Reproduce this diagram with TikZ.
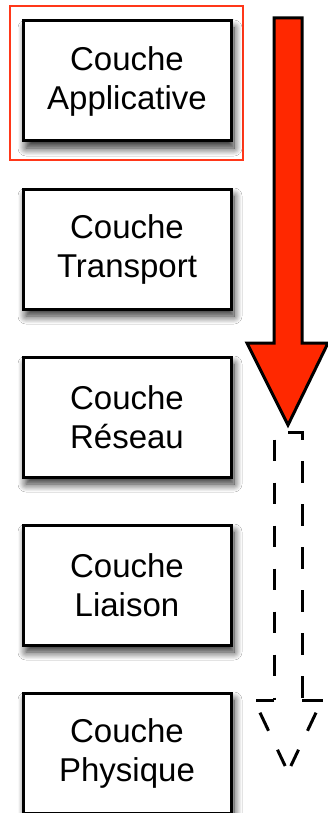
\documentclass[tikz,border=0pt]{standalone}
\usepackage{fontspec}
\setmainfont{Liberation Sans}
\usetikzlibrary{shadows.blur}
\definecolor{arrowred}{RGB}{255,40,0}
\definecolor{selred}{RGB}{255,55,25}
\begin{document}
\begin{tikzpicture}[x=1pt,y=-1pt,
  layer/.style={draw=black, line width=3pt, fill=white, minimum width=208pt, minimum height=120pt,
    inner sep=0pt, align=center, font=\fontsize{33}{39}\selectfont,
    blur shadow={shadow xshift=3pt, shadow yshift=-7pt, shadow blur steps=14, shadow blur radius=8pt, shadow opacity=85}},
  selbox/.style={draw=selred, line width=2pt},
  bigarrow/.style={draw=black, line width=3pt, fill=arrowred, line join=miter},
  ghost/.style={draw=black, line width=3pt, line join=miter},
  ghostdash/.style={ghost, dash pattern=on 21.5pt off 21.5pt},
  ghostdiag/.style={ghost, dash pattern=on 0pt off 14pt on 20pt off 21pt on 18pt off 40pt}]
\useasboundingbox (0,0) rectangle (327,813);
\fill[white] (0,0) rectangle (327,813);
\draw[selbox] (10,6) rectangle (243,160);
\node[layer] (app) at (127,81) {Couche\\Applicative};
\node[layer] (tra) at (127,249) {Couche\\Transport};
\node[layer] (res) at (127,417) {Couche\\Réseau};
\node[layer] (lia) at (127,585) {Couche\\Liaison};
\node[layer] (phy) at (127,753) {Couche\\Physique};
\draw[bigarrow] (274,18) -- (302,18) -- (302,343) -- (328,343) -- (288,425) -- (247,343) -- (274,343) -- cycle;
% ghost arrow (dashed outline)
\coordinate (gt) at (288,432);
\coordinate (gtip) at (288,772);
\draw[ghostdash] (gt) -- (302,432) -- (302,700);
\draw[ghostdash, dash phase=21.5pt] (gt) -- (274,432) -- (274,700);
\draw[ghost] (302,700) -- (323,700);
\draw[ghost] (274,700) -- (256,700);
\draw[ghostdiag] (322,700) -- (gtip);
\draw[ghostdiag] (254,700) -- (gtip);
\end{tikzpicture}
\end{document}
